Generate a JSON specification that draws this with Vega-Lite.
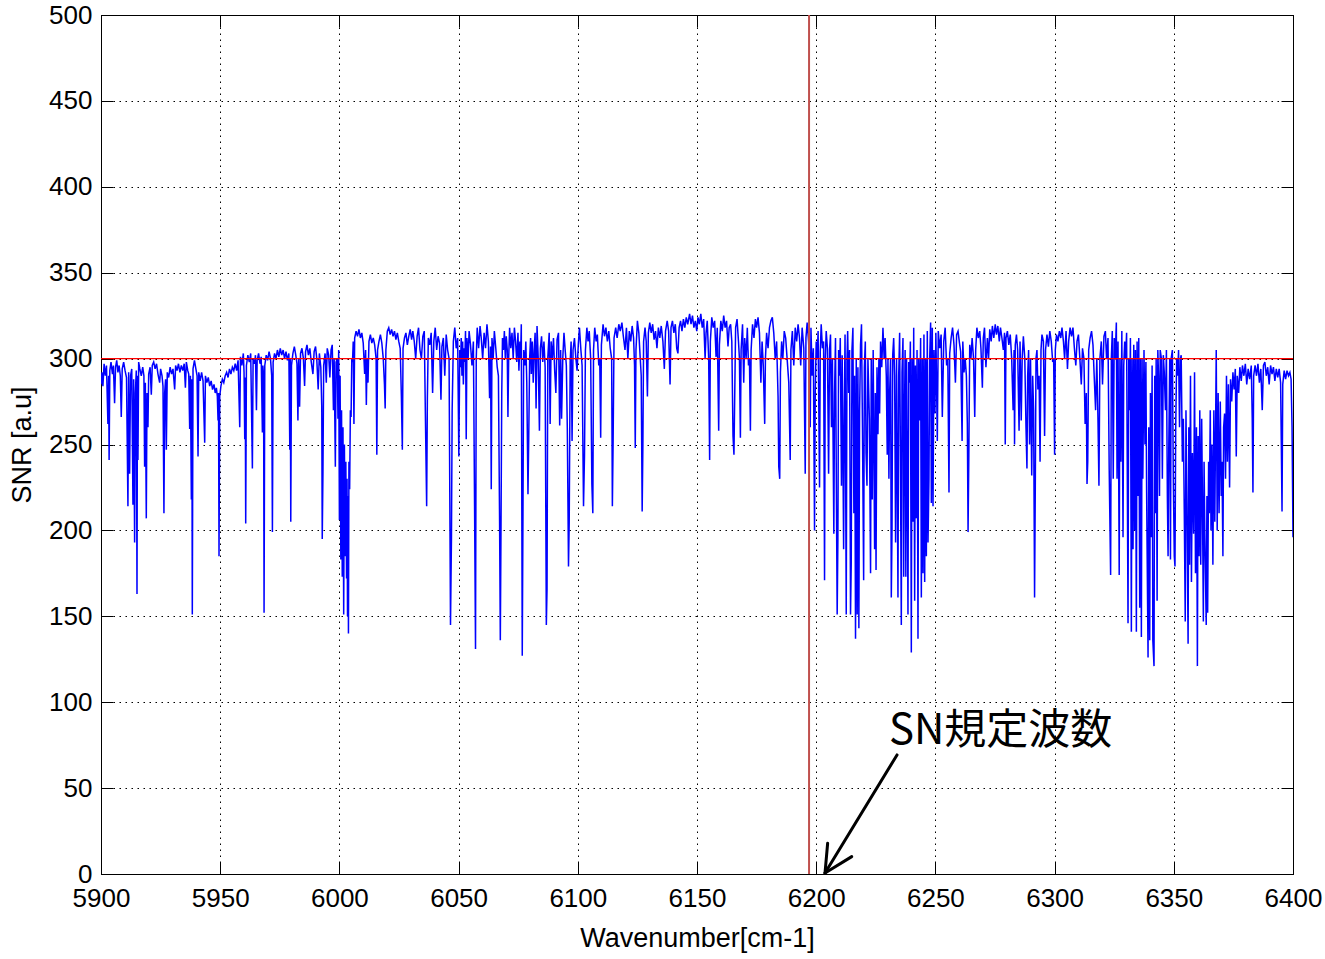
{
"$schema": "https://vega.github.io/schema/vega-lite/v6.json",
"width": 1192, "height": 859,
"autosize": {"type": "none"},
"padding": {"left": 101, "top": 15, "right": 32, "bottom": 85},
"background": "white",
"config": {
 "view": {"stroke": "black", "strokeWidth": 1},
 "axis": {"domainColor": "black", "tickColor": "black", "gridColor": "black", "gridDash": [1.5, 4.5], "gridOpacity": 1, "gridWidth": 1,
  "labelFont": "Liberation Sans", "labelFontSize": 26, "labelColor": "black", "labelOverlap": false, "labelFlush": false, "labelBound": false, "format": "d",
  "titleFont": "Liberation Sans", "titleFontSize": 27, "titleFontWeight": "normal", "titleColor": "black", "tickSize": -12, "tickWidth": 1}
},
"resolve": {"axis": {"x": "independent", "y": "independent"}},
"layer": [
 {
  "data": {"values": [
{"w":5900,"s":285},{"w":5900.4,"s":292},{"w":5900.8,"s":284},{"w":5901.3,"s":297},{"w":5901.8,"s":290},{"w":5902.3,"s":296},{"w":5902.9,"s":262},{"w":5903.2,"s":290},{"w":5903.4,"s":241},{"w":5903.7,"s":293},{"w":5904.2,"s":298},{"w":5904.8,"s":291},{"w":5905.2,"s":296},{"w":5905.7,"s":274},{"w":5906.1,"s":295},{"w":5906.6,"s":299},{"w":5907.1,"s":292},{"w":5907.6,"s":296},{"w":5908.1,"s":290},{"w":5908.5,"s":266},{"w":5908.9,"s":294},{"w":5909.5,"s":298},{"w":5910.1,"s":293},{"w":5910.7,"s":289},{"w":5911.3,"s":214},{"w":5911.6,"s":292},{"w":5912.0,"s":233},{"w":5912.4,"s":290},{"w":5912.9,"s":294},{"w":5913.4,"s":215},{"w":5913.7,"s":288},{"w":5914.1,"s":193},{"w":5914.4,"s":280},{"w":5914.8,"s":293},{"w":5915.1,"s":163},{"w":5915.3,"s":290},{"w":5915.5,"s":241},{"w":5915.8,"s":298},{"w":5916.3,"s":294},{"w":5916.9,"s":290},{"w":5917.5,"s":295},{"w":5918.0,"s":290},{"w":5918.3,"s":237},{"w":5918.6,"s":286},{"w":5919.0,"s":207},{"w":5919.3,"s":280},{"w":5919.7,"s":260},{"w":5920.0,"s":291},{"w":5920.6,"s":295},{"w":5921.1,"s":279},{"w":5921.5,"s":296},{"w":5922.1,"s":298},{"w":5922.7,"s":294},{"w":5923.3,"s":297},{"w":5923.9,"s":291},{"w":5924.6,"s":286},{"w":5925.0,"s":294},{"w":5925.6,"s":290},{"w":5926.0,"s":284},{"w":5926.4,"s":210},{"w":5926.7,"s":280},{"w":5927.1,"s":288},{"w":5927.4,"s":247},{"w":5927.8,"s":292},{"w":5928.4,"s":289},{"w":5929.0,"s":295},{"w":5929.6,"s":291},{"w":5930.2,"s":294},{"w":5930.9,"s":282},{"w":5931.3,"s":296},{"w":5931.9,"s":293},{"w":5932.5,"s":297},{"w":5933.1,"s":292},{"w":5933.7,"s":296},{"w":5934.3,"s":293},{"w":5934.9,"s":297},{"w":5935.4,"s":283},{"w":5935.8,"s":298},{"w":5936.4,"s":293},{"w":5936.8,"s":291},{"w":5937.2,"s":259},{"w":5937.5,"s":290},{"w":5937.9,"s":218},{"w":5938.1,"s":288},{"w":5938.3,"s":151},{"w":5938.6,"s":294},{"w":5939.2,"s":299},{"w":5939.8,"s":294},{"w":5940.3,"s":290},{"w":5940.7,"s":243},{"w":5941.0,"s":292},{"w":5941.6,"s":287},{"w":5942.2,"s":292},{"w":5942.8,"s":287},{"w":5943.5,"s":251},{"w":5943.8,"s":290},{"w":5944.4,"s":286},{"w":5945.0,"s":289},{"w":5945.6,"s":284},{"w":5946.2,"s":287},{"w":5946.8,"s":282},{"w":5947.4,"s":285},{"w":5947.9,"s":280},{"w":5948.4,"s":283},{"w":5948.8,"s":278},{"w":5949.1,"s":264},{"w":5949.3,"s":280},{"w":5949.5,"s":185},{"w":5949.8,"s":278},{"w":5950.3,"s":284},{"w":5950.9,"s":288},{"w":5951.5,"s":286},{"w":5952.1,"s":290},{"w":5952.7,"s":292},{"w":5953.3,"s":289},{"w":5953.9,"s":294},{"w":5954.5,"s":291},{"w":5955.1,"s":295},{"w":5955.7,"s":293},{"w":5956.3,"s":297},{"w":5956.9,"s":293},{"w":5957.5,"s":299},{"w":5958.2,"s":260},{"w":5958.5,"s":301},{"w":5959.1,"s":296},{"w":5959.7,"s":303},{"w":5960.0,"s":292},{"w":5960.3,"s":253},{"w":5960.5,"s":289},{"w":5960.7,"s":204},{"w":5961.0,"s":296},{"w":5961.6,"s":302},{"w":5962.2,"s":298},{"w":5962.8,"s":303},{"w":5963.5,"s":236},{"w":5963.8,"s":300},{"w":5964.4,"s":297},{"w":5964.8,"s":302},{"w":5965.2,"s":270},{"w":5965.5,"s":299},{"w":5966.1,"s":303},{"w":5966.7,"s":297},{"w":5967.2,"s":301},{"w":5967.7,"s":257},{"w":5967.9,"s":296},{"w":5968.2,"s":290},{"w":5968.4,"s":152},{"w":5968.7,"s":296},{"w":5969.3,"s":302},{"w":5969.9,"s":299},{"w":5970.5,"s":304},{"w":5971.1,"s":300},{"w":5971.6,"s":290},{"w":5971.9,"s":199},{"w":5972.2,"s":298},{"w":5972.8,"s":303},{"w":5973.4,"s":300},{"w":5974.0,"s":305},{"w":5974.6,"s":301},{"w":5975.2,"s":306},{"w":5975.8,"s":302},{"w":5976.4,"s":305},{"w":5977.0,"s":300},{"w":5977.6,"s":304},{"w":5978.2,"s":299},{"w":5978.8,"s":303},{"w":5979.2,"s":247},{"w":5979.4,"s":300},{"w":5979.6,"s":205},{"w":5979.9,"s":296},{"w":5980.5,"s":303},{"w":5981.1,"s":307},{"w":5981.7,"s":302},{"w":5982.2,"s":297},{"w":5982.6,"s":264},{"w":5982.9,"s":300},{"w":5983.3,"s":272},{"w":5983.7,"s":303},{"w":5984.3,"s":306},{"w":5984.9,"s":300},{"w":5985.4,"s":284},{"w":5985.8,"s":304},{"w":5986.4,"s":308},{"w":5987.0,"s":302},{"w":5987.6,"s":306},{"w":5988.2,"s":298},{"w":5988.9,"s":291},{"w":5989.4,"s":304},{"w":5990.0,"s":307},{"w":5990.5,"s":300},{"w":5991.1,"s":282},{"w":5991.6,"s":303},{"w":5992.2,"s":295},{"w":5992.6,"s":272},{"w":5992.8,"s":195},{"w":5993.1,"s":234},{"w":5993.4,"s":296},{"w":5994.0,"s":303},{"w":5994.5,"s":286},{"w":5994.9,"s":306},{"w":5995.5,"s":302},{"w":5996.0,"s":289},{"w":5996.5,"s":305},{"w":5997.0,"s":308},{"w":5997.5,"s":270},{"w":5997.8,"s":300},{"w":5998.3,"s":237},{"w":5998.6,"s":298},{"w":5999.1,"s":300},{"w":5999.4,"s":265},{"w":5999.7,"s":305},{"w":6000.0,"s":206},{"w":6000.3,"s":290},{"w":6000.6,"s":183},{"w":6000.9,"s":270},{"w":6001.2,"s":173},{"w":6001.5,"s":260},{"w":6001.8,"s":151},{"w":6002.1,"s":250},{"w":6002.4,"s":185},{"w":6002.7,"s":240},{"w":6003.0,"s":172},{"w":6003.2,"s":230},{"w":6003.4,"s":150},{"w":6003.6,"s":220},{"w":6003.8,"s":140},{"w":6004.0,"s":240},{"w":6004.3,"s":224},{"w":6004.6,"s":270},{"w":6004.9,"s":266},{"w":6005.2,"s":300},{"w":6005.5,"s":298},{"w":6005.8,"s":310},{"w":6006.1,"s":262},{"w":6006.4,"s":312},{"w":6007.0,"s":316},{"w":6007.6,"s":313},{"w":6008.2,"s":317},{"w":6008.8,"s":312},{"w":6009.4,"s":315},{"w":6010.0,"s":309},{"w":6010.6,"s":291},{"w":6011.0,"s":305},{"w":6011.3,"s":273},{"w":6011.6,"s":300},{"w":6012.0,"s":286},{"w":6012.4,"s":310},{"w":6013.0,"s":314},{"w":6013.6,"s":309},{"w":6014.2,"s":312},{"w":6014.8,"s":308},{"w":6015.4,"s":300},{"w":6015.7,"s":244},{"w":6016.0,"s":305},{"w":6016.6,"s":310},{"w":6017.2,"s":314},{"w":6017.8,"s":309},{"w":6018.4,"s":300},{"w":6018.9,"s":285},{"w":6019.2,"s":271},{"w":6019.5,"s":305},{"w":6020.1,"s":316},{"w":6020.7,"s":318},{"w":6021.3,"s":314},{"w":6021.9,"s":317},{"w":6022.5,"s":313},{"w":6023.1,"s":316},{"w":6023.7,"s":311},{"w":6024.3,"s":315},{"w":6024.9,"s":310},{"w":6025.5,"s":306},{"w":6026.0,"s":278},{"w":6026.4,"s":247},{"w":6026.7,"s":306},{"w":6027.3,"s":312},{"w":6027.9,"s":315},{"w":6028.5,"s":308},{"w":6029.1,"s":313},{"w":6029.7,"s":317},{"w":6030.3,"s":311},{"w":6030.8,"s":316},{"w":6031.4,"s":310},{"w":6032.0,"s":300},{"w":6032.6,"s":313},{"w":6033.2,"s":318},{"w":6033.8,"s":305},{"w":6034.4,"s":300},{"w":6035.0,"s":313},{"w":6035.6,"s":316},{"w":6036.1,"s":264},{"w":6036.6,"s":214},{"w":6036.9,"s":277},{"w":6037.3,"s":312},{"w":6037.9,"s":308},{"w":6038.5,"s":315},{"w":6039.1,"s":280},{"w":6039.6,"s":310},{"w":6040.2,"s":318},{"w":6040.8,"s":305},{"w":6041.4,"s":313},{"w":6042.0,"s":309},{"w":6042.6,"s":276},{"w":6043.0,"s":307},{"w":6043.6,"s":312},{"w":6044.2,"s":290},{"w":6044.8,"s":314},{"w":6045.4,"s":305},{"w":6046.0,"s":300},{"w":6046.6,"s":145},{"w":6047.0,"s":195},{"w":6047.3,"s":270},{"w":6047.8,"s":310},{"w":6048.4,"s":318},{"w":6049.0,"s":306},{"w":6049.6,"s":312},{"w":6050.1,"s":243},{"w":6050.5,"s":305},{"w":6050.8,"s":295},{"w":6051.1,"s":312},{"w":6051.4,"s":290},{"w":6051.7,"s":310},{"w":6052.0,"s":285},{"w":6052.3,"s":306},{"w":6052.6,"s":298},{"w":6052.9,"s":316},{"w":6053.2,"s":253},{"w":6053.5,"s":312},{"w":6054.0,"s":300},{"w":6054.4,"s":316},{"w":6055.0,"s":308},{"w":6055.6,"s":296},{"w":6056.2,"s":310},{"w":6056.7,"s":214},{"w":6057.1,"s":131},{"w":6057.4,"s":300},{"w":6057.8,"s":318},{"w":6058.4,"s":306},{"w":6059.0,"s":319},{"w":6059.5,"s":312},{"w":6060.1,"s":300},{"w":6060.7,"s":315},{"w":6061.3,"s":306},{"w":6061.9,"s":320},{"w":6062.5,"s":310},{"w":6063.0,"s":277},{"w":6063.4,"s":307},{"w":6063.7,"s":224},{"w":6064.0,"s":312},{"w":6064.5,"s":300},{"w":6065.0,"s":316},{"w":6065.6,"s":306},{"w":6066.2,"s":295},{"w":6066.7,"s":290},{"w":6067.2,"s":204},{"w":6067.5,"s":136},{"w":6067.8,"s":205},{"w":6068.1,"s":280},{"w":6068.4,"s":312},{"w":6068.8,"s":305},{"w":6069.2,"s":316},{"w":6069.6,"s":300},{"w":6070.0,"s":313},{"w":6070.4,"s":305},{"w":6070.7,"s":266},{"w":6071.0,"s":300},{"w":6071.4,"s":318},{"w":6071.9,"s":306},{"w":6072.4,"s":315},{"w":6072.9,"s":300},{"w":6073.4,"s":318},{"w":6073.9,"s":310},{"w":6074.4,"s":298},{"w":6074.9,"s":315},{"w":6075.3,"s":293},{"w":6075.7,"s":310},{"w":6076.0,"s":300},{"w":6076.3,"s":320},{"w":6076.7,"s":127},{"w":6077.0,"s":210},{"w":6077.3,"s":305},{"w":6077.8,"s":296},{"w":6078.2,"s":310},{"w":6078.6,"s":286},{"w":6079.1,"s":221},{"w":6079.4,"s":252},{"w":6079.8,"s":300},{"w":6080.2,"s":312},{"w":6080.5,"s":291},{"w":6080.9,"s":310},{"w":6081.3,"s":286},{"w":6081.7,"s":305},{"w":6082.1,"s":315},{"w":6082.5,"s":271},{"w":6082.9,"s":319},{"w":6083.4,"s":300},{"w":6083.9,"s":258},{"w":6084.3,"s":306},{"w":6084.8,"s":313},{"w":6085.3,"s":298},{"w":6085.8,"s":310},{"w":6086.3,"s":295},{"w":6086.8,"s":145},{"w":6087.1,"s":166},{"w":6087.4,"s":300},{"w":6088.0,"s":315},{"w":6088.4,"s":262},{"w":6088.8,"s":310},{"w":6089.3,"s":300},{"w":6089.8,"s":312},{"w":6090.3,"s":293},{"w":6090.8,"s":280},{"w":6091.3,"s":311},{"w":6091.9,"s":315},{"w":6092.4,"s":261},{"w":6092.8,"s":305},{"w":6093.2,"s":265},{"w":6093.7,"s":300},{"w":6094.2,"s":315},{"w":6094.7,"s":305},{"w":6095.2,"s":296},{"w":6095.6,"s":259},{"w":6096.1,"s":179},{"w":6096.4,"s":205},{"w":6096.8,"s":298},{"w":6097.2,"s":310},{"w":6097.6,"s":252},{"w":6098.0,"s":305},{"w":6098.6,"s":312},{"w":6099.2,"s":300},{"w":6099.7,"s":293},{"w":6100.2,"s":308},{"w":6100.7,"s":318},{"w":6101.3,"s":305},{"w":6101.8,"s":296},{"w":6102.4,"s":214},{"w":6102.8,"s":243},{"w":6103.2,"s":305},{"w":6103.8,"s":318},{"w":6104.3,"s":310},{"w":6104.8,"s":316},{"w":6105.4,"s":300},{"w":6105.9,"s":227},{"w":6106.3,"s":210},{"w":6106.6,"s":305},{"w":6107.1,"s":318},{"w":6107.7,"s":310},{"w":6108.2,"s":314},{"w":6108.8,"s":296},{"w":6109.2,"s":300},{"w":6109.6,"s":254},{"w":6109.9,"s":308},{"w":6110.6,"s":320},{"w":6111.2,"s":313},{"w":6111.8,"s":318},{"w":6112.4,"s":310},{"w":6113.0,"s":316},{"w":6113.6,"s":306},{"w":6114.2,"s":300},{"w":6114.5,"s":214},{"w":6114.8,"s":250},{"w":6115.2,"s":312},{"w":6115.9,"s":318},{"w":6116.5,"s":312},{"w":6117.2,"s":320},{"w":6117.8,"s":316},{"w":6118.5,"s":321},{"w":6119.1,"s":313},{"w":6119.8,"s":305},{"w":6120.4,"s":318},{"w":6121.0,"s":300},{"w":6121.6,"s":316},{"w":6122.2,"s":310},{"w":6122.8,"s":319},{"w":6123.4,"s":312},{"w":6123.8,"s":296},{"w":6124.1,"s":248},{"w":6124.4,"s":305},{"w":6125.0,"s":322},{"w":6125.6,"s":315},{"w":6126.2,"s":300},{"w":6126.6,"s":290},{"w":6127.0,"s":211},{"w":6127.3,"s":250},{"w":6127.6,"s":310},{"w":6128.2,"s":318},{"w":6128.7,"s":310},{"w":6129.2,"s":278},{"w":6129.6,"s":315},{"w":6130.2,"s":321},{"w":6130.8,"s":315},{"w":6131.4,"s":320},{"w":6132.0,"s":311},{"w":6132.6,"s":316},{"w":6133.2,"s":306},{"w":6133.8,"s":318},{"w":6134.4,"s":312},{"w":6135.0,"s":319},{"w":6135.7,"s":310},{"w":6136.3,"s":294},{"w":6136.8,"s":316},{"w":6137.5,"s":322},{"w":6138.1,"s":316},{"w":6138.7,"s":285},{"w":6139.1,"s":318},{"w":6139.7,"s":322},{"w":6140.3,"s":315},{"w":6140.9,"s":320},{"w":6141.5,"s":306},{"w":6142.0,"s":303},{"w":6142.5,"s":318},{"w":6143.1,"s":322},{"w":6143.7,"s":316},{"w":6144.3,"s":323},{"w":6144.9,"s":318},{"w":6145.5,"s":324},{"w":6146.1,"s":320},{"w":6146.9,"s":326},{"w":6147.5,"s":320},{"w":6148.1,"s":325},{"w":6148.7,"s":318},{"w":6149.3,"s":322},{"w":6149.9,"s":316},{"w":6150.4,"s":324},{"w":6151.0,"s":320},{"w":6151.6,"s":326},{"w":6152.2,"s":318},{"w":6152.8,"s":323},{"w":6153.4,"s":300},{"w":6153.8,"s":315},{"w":6154.3,"s":322},{"w":6154.9,"s":300},{"w":6155.3,"s":241},{"w":6155.6,"s":310},{"w":6156.2,"s":324},{"w":6156.8,"s":318},{"w":6157.4,"s":322},{"w":6158.0,"s":301},{"w":6158.5,"s":318},{"w":6159.1,"s":258},{"w":6159.4,"s":308},{"w":6160.0,"s":322},{"w":6160.6,"s":316},{"w":6161.2,"s":325},{"w":6161.8,"s":318},{"w":6162.4,"s":322},{"w":6163.0,"s":307},{"w":6163.5,"s":318},{"w":6164.1,"s":320},{"w":6164.6,"s":310},{"w":6165.1,"s":255},{"w":6165.5,"s":244},{"w":6165.8,"s":276},{"w":6166.2,"s":318},{"w":6166.8,"s":323},{"w":6167.4,"s":310},{"w":6167.8,"s":300},{"w":6168.2,"s":254},{"w":6168.5,"s":305},{"w":6169.1,"s":320},{"w":6169.6,"s":286},{"w":6170.0,"s":312},{"w":6170.6,"s":300},{"w":6171.1,"s":318},{"w":6171.6,"s":296},{"w":6172.0,"s":300},{"w":6172.4,"s":258},{"w":6172.7,"s":305},{"w":6173.3,"s":320},{"w":6173.9,"s":312},{"w":6174.5,"s":323},{"w":6175.0,"s":318},{"w":6175.6,"s":324},{"w":6176.2,"s":315},{"w":6176.8,"s":286},{"w":6177.3,"s":310},{"w":6177.8,"s":296},{"w":6178.4,"s":262},{"w":6178.7,"s":300},{"w":6179.2,"s":315},{"w":6179.8,"s":306},{"w":6180.4,"s":318},{"w":6181.0,"s":322},{"w":6181.6,"s":324},{"w":6182.2,"s":315},{"w":6182.8,"s":300},{"w":6183.4,"s":310},{"w":6184.0,"s":278},{"w":6184.3,"s":237},{"w":6184.7,"s":230},{"w":6185.0,"s":292},{"w":6185.5,"s":310},{"w":6186.0,"s":300},{"w":6186.6,"s":316},{"w":6187.2,"s":312},{"w":6187.8,"s":300},{"w":6188.5,"s":286},{"w":6189.1,"s":241},{"w":6189.4,"s":305},{"w":6190.0,"s":316},{"w":6190.6,"s":296},{"w":6191.2,"s":318},{"w":6191.8,"s":310},{"w":6192.4,"s":320},{"w":6193.0,"s":312},{"w":6193.5,"s":296},{"w":6194.1,"s":318},{"w":6194.8,"s":306},{"w":6195.4,"s":233},{"w":6195.7,"s":312},{"w":6196.2,"s":321},{"w":6196.8,"s":310},{"w":6197.1,"s":300},{"w":6197.5,"s":260},{"w":6197.8,"s":318},{"w":6198.3,"s":290},{"w":6198.8,"s":306},{"w":6199.3,"s":200},{"w":6199.6,"s":280},{"w":6200.0,"s":310},{"w":6200.4,"s":300},{"w":6200.8,"s":316},{"w":6201.4,"s":225},{"w":6201.7,"s":304},{"w":6202.1,"s":320},{"w":6202.6,"s":306},{"w":6203.1,"s":310},{"w":6203.5,"s":171},{"w":6203.8,"s":300},{"w":6204.2,"s":316},{"w":6204.7,"s":306},{"w":6205.2,"s":233},{"w":6205.6,"s":305},{"w":6206.0,"s":314},{"w":6206.4,"s":260},{"w":6206.8,"s":300},{"w":6207.4,"s":198},{"w":6207.7,"s":280},{"w":6208.1,"s":312},{"w":6208.5,"s":215},{"w":6208.8,"s":151},{"w":6209.1,"s":195},{"w":6209.4,"s":305},{"w":6209.8,"s":290},{"w":6210.1,"s":312},{"w":6210.6,"s":226},{"w":6210.9,"s":302},{"w":6211.2,"s":250},{"w":6211.5,"s":189},{"w":6211.8,"s":270},{"w":6212.1,"s":314},{"w":6212.6,"s":151},{"w":6212.9,"s":298},{"w":6213.2,"s":316},{"w":6213.6,"s":280},{"w":6214.0,"s":305},{"w":6214.4,"s":151},{"w":6214.7,"s":181},{"w":6215.0,"s":305},{"w":6215.4,"s":318},{"w":6215.8,"s":210},{"w":6216.1,"s":290},{"w":6216.5,"s":137},{"w":6216.8,"s":300},{"w":6217.2,"s":151},{"w":6217.5,"s":295},{"w":6217.9,"s":143},{"w":6218.2,"s":270},{"w":6218.6,"s":308},{"w":6219.0,"s":320},{"w":6219.4,"s":260},{"w":6219.9,"s":171},{"w":6220.2,"s":295},{"w":6220.6,"s":310},{"w":6220.9,"s":245},{"w":6221.3,"s":226},{"w":6221.7,"s":300},{"w":6222.3,"s":265},{"w":6222.8,"s":175},{"w":6223.1,"s":300},{"w":6223.5,"s":218},{"w":6223.9,"s":305},{"w":6224.5,"s":189},{"w":6224.8,"s":280},{"w":6225.1,"s":177},{"w":6225.5,"s":295},{"w":6225.9,"s":256},{"w":6226.3,"s":300},{"w":6226.6,"s":268},{"w":6227.0,"s":310},{"w":6227.5,"s":295},{"w":6228.0,"s":318},{"w":6228.5,"s":300},{"w":6228.9,"s":312},{"w":6229.4,"s":290},{"w":6229.8,"s":244},{"w":6230.1,"s":300},{"w":6230.5,"s":230},{"w":6230.8,"s":280},{"w":6231.2,"s":300},{"w":6231.5,"s":161},{"w":6231.8,"s":200},{"w":6232.1,"s":302},{"w":6232.5,"s":312},{"w":6232.9,"s":290},{"w":6233.3,"s":193},{"w":6233.7,"s":300},{"w":6234.0,"s":230},{"w":6234.3,"s":161},{"w":6234.6,"s":290},{"w":6235.0,"s":315},{"w":6235.3,"s":250},{"w":6235.7,"s":145},{"w":6236.0,"s":292},{"w":6236.4,"s":312},{"w":6236.7,"s":173},{"w":6237.0,"s":264},{"w":6237.3,"s":305},{"w":6237.6,"s":173},{"w":6237.9,"s":300},{"w":6238.2,"s":230},{"w":6238.5,"s":151},{"w":6238.8,"s":298},{"w":6239.2,"s":286},{"w":6239.5,"s":310},{"w":6239.9,"s":129},{"w":6240.2,"s":300},{"w":6240.6,"s":205},{"w":6240.9,"s":318},{"w":6241.3,"s":159},{"w":6241.6,"s":296},{"w":6242.0,"s":207},{"w":6242.3,"s":305},{"w":6242.7,"s":137},{"w":6243.0,"s":300},{"w":6243.4,"s":264},{"w":6243.8,"s":312},{"w":6244.1,"s":161},{"w":6244.5,"s":300},{"w":6244.8,"s":175},{"w":6245.2,"s":314},{"w":6245.5,"s":170},{"w":6245.9,"s":300},{"w":6246.2,"s":185},{"w":6246.6,"s":316},{"w":6246.9,"s":193},{"w":6247.3,"s":230},{"w":6247.6,"s":300},{"w":6248.0,"s":321},{"w":6248.3,"s":216},{"w":6248.7,"s":318},{"w":6249.0,"s":214},{"w":6249.4,"s":305},{"w":6249.8,"s":268},{"w":6250.2,"s":315},{"w":6250.8,"s":252},{"w":6251.2,"s":316},{"w":6251.8,"s":306},{"w":6252.4,"s":314},{"w":6252.9,"s":266},{"w":6253.5,"s":310},{"w":6254.1,"s":318},{"w":6254.7,"s":296},{"w":6255.2,"s":300},{"w":6255.7,"s":222},{"w":6256.0,"s":303},{"w":6256.6,"s":312},{"w":6257.2,"s":318},{"w":6257.8,"s":308},{"w":6258.4,"s":286},{"w":6258.9,"s":314},{"w":6259.5,"s":316},{"w":6260.1,"s":309},{"w":6260.6,"s":304},{"w":6261.2,"s":252},{"w":6261.5,"s":310},{"w":6262.0,"s":292},{"w":6262.5,"s":300},{"w":6263.0,"s":290},{"w":6263.4,"s":262},{"w":6263.7,"s":199},{"w":6264.0,"s":240},{"w":6264.4,"s":308},{"w":6264.9,"s":300},{"w":6265.4,"s":312},{"w":6266.0,"s":300},{"w":6266.5,"s":266},{"w":6266.9,"s":305},{"w":6267.4,"s":318},{"w":6268.0,"s":312},{"w":6268.6,"s":316},{"w":6269.1,"s":306},{"w":6269.7,"s":283},{"w":6270.1,"s":312},{"w":6270.6,"s":318},{"w":6271.2,"s":295},{"w":6271.8,"s":312},{"w":6272.3,"s":300},{"w":6272.8,"s":317},{"w":6273.4,"s":310},{"w":6273.9,"s":319},{"w":6274.5,"s":312},{"w":6275.1,"s":320},{"w":6275.6,"s":314},{"w":6276.2,"s":319},{"w":6276.8,"s":310},{"w":6277.3,"s":318},{"w":6277.9,"s":312},{"w":6278.5,"s":305},{"w":6279.0,"s":315},{"w":6279.3,"s":250},{"w":6279.6,"s":312},{"w":6280.2,"s":316},{"w":6280.8,"s":308},{"w":6281.4,"s":314},{"w":6282.0,"s":300},{"w":6282.6,"s":270},{"w":6283.0,"s":305},{"w":6283.2,"s":250},{"w":6283.5,"s":308},{"w":6284.0,"s":314},{"w":6284.5,"s":305},{"w":6285.1,"s":258},{"w":6285.5,"s":310},{"w":6286.0,"s":264},{"w":6286.4,"s":300},{"w":6286.9,"s":313},{"w":6287.5,"s":300},{"w":6288.0,"s":260},{"w":6288.4,"s":236},{"w":6288.7,"s":290},{"w":6289.1,"s":305},{"w":6289.5,"s":250},{"w":6289.9,"s":300},{"w":6290.4,"s":232},{"w":6290.8,"s":290},{"w":6291.2,"s":270},{"w":6291.6,"s":161},{"w":6291.9,"s":225},{"w":6292.2,"s":300},{"w":6292.6,"s":305},{"w":6293.0,"s":282},{"w":6293.5,"s":290},{"w":6293.9,"s":240},{"w":6294.3,"s":305},{"w":6294.7,"s":314},{"w":6295.3,"s":310},{"w":6295.8,"s":255},{"w":6296.2,"s":305},{"w":6296.8,"s":314},{"w":6297.4,"s":307},{"w":6298.0,"s":316},{"w":6298.6,"s":310},{"w":6299.2,"s":298},{"w":6299.6,"s":300},{"w":6300.0,"s":244},{"w":6300.3,"s":305},{"w":6300.8,"s":314},{"w":6301.4,"s":310},{"w":6302.0,"s":316},{"w":6302.6,"s":312},{"w":6303.1,"s":318},{"w":6303.7,"s":310},{"w":6304.2,"s":300},{"w":6304.8,"s":316},{"w":6305.4,"s":294},{"w":6305.9,"s":310},{"w":6306.5,"s":318},{"w":6307.1,"s":313},{"w":6307.7,"s":318},{"w":6308.3,"s":306},{"w":6308.9,"s":296},{"w":6309.4,"s":310},{"w":6310.0,"s":314},{"w":6310.6,"s":300},{"w":6311.2,"s":285},{"w":6311.7,"s":306},{"w":6312.3,"s":300},{"w":6312.8,"s":262},{"w":6313.3,"s":280},{"w":6313.6,"s":227},{"w":6313.9,"s":240},{"w":6314.3,"s":305},{"w":6314.9,"s":312},{"w":6315.5,"s":316},{"w":6316.1,"s":308},{"w":6316.6,"s":290},{"w":6317.2,"s":270},{"w":6317.7,"s":300},{"w":6318.2,"s":264},{"w":6318.6,"s":226},{"w":6319.0,"s":300},{"w":6319.6,"s":310},{"w":6320.1,"s":285},{"w":6320.7,"s":313},{"w":6321.3,"s":316},{"w":6321.8,"s":300},{"w":6322.4,"s":312},{"w":6322.9,"s":236},{"w":6323.5,"s":174},{"w":6323.8,"s":300},{"w":6324.2,"s":316},{"w":6324.6,"s":230},{"w":6325.0,"s":312},{"w":6325.4,"s":300},{"w":6325.9,"s":321},{"w":6326.2,"s":230},{"w":6326.6,"s":310},{"w":6327.1,"s":174},{"w":6327.4,"s":300},{"w":6327.8,"s":240},{"w":6328.2,"s":316},{"w":6328.7,"s":196},{"w":6329.0,"s":296},{"w":6329.4,"s":310},{"w":6329.8,"s":300},{"w":6330.2,"s":315},{"w":6330.8,"s":146},{"w":6331.1,"s":300},{"w":6331.5,"s":270},{"w":6331.8,"s":312},{"w":6332.2,"s":141},{"w":6332.5,"s":300},{"w":6332.9,"s":189},{"w":6333.2,"s":308},{"w":6333.6,"s":200},{"w":6333.9,"s":305},{"w":6334.3,"s":141},{"w":6334.6,"s":310},{"w":6334.9,"s":220},{"w":6335.3,"s":312},{"w":6335.7,"s":155},{"w":6336.0,"s":300},{"w":6336.4,"s":138},{"w":6336.7,"s":300},{"w":6337.0,"s":230},{"w":6337.5,"s":305},{"w":6337.9,"s":250},{"w":6338.3,"s":298},{"w":6338.6,"s":222},{"w":6339.2,"s":126},{"w":6339.5,"s":260},{"w":6339.9,"s":136},{"w":6340.2,"s":280},{"w":6340.6,"s":196},{"w":6340.9,"s":296},{"w":6341.2,"s":136},{"w":6341.7,"s":121},{"w":6342.0,"s":290},{"w":6342.3,"s":210},{"w":6342.6,"s":300},{"w":6343.0,"s":159},{"w":6343.3,"s":305},{"w":6343.6,"s":290},{"w":6344.0,"s":220},{"w":6344.3,"s":305},{"w":6344.8,"s":300},{"w":6345.2,"s":230},{"w":6345.6,"s":302},{"w":6346.0,"s":292},{"w":6346.5,"s":270},{"w":6346.9,"s":305},{"w":6347.3,"s":220},{"w":6347.6,"s":185},{"w":6347.9,"s":250},{"w":6348.3,"s":300},{"w":6348.6,"s":183},{"w":6348.9,"s":300},{"w":6349.4,"s":305},{"w":6349.8,"s":230},{"w":6350.2,"s":185},{"w":6350.5,"s":179},{"w":6350.8,"s":260},{"w":6351.2,"s":300},{"w":6351.6,"s":290},{"w":6352.0,"s":305},{"w":6352.4,"s":260},{"w":6352.8,"s":300},{"w":6353.1,"s":302},{"w":6353.6,"s":240},{"w":6354.0,"s":265},{"w":6354.4,"s":210},{"w":6354.8,"s":147},{"w":6355.1,"s":270},{"w":6355.5,"s":215},{"w":6356.0,"s":134},{"w":6356.3,"s":260},{"w":6356.6,"s":180},{"w":6357.0,"s":290},{"w":6357.4,"s":170},{"w":6357.8,"s":245},{"w":6358.3,"s":198},{"w":6358.7,"s":292},{"w":6359.1,"s":175},{"w":6359.5,"s":260},{"w":6359.9,"s":121},{"w":6360.2,"s":255},{"w":6360.6,"s":185},{"w":6360.9,"s":270},{"w":6361.3,"s":180},{"w":6361.7,"s":265},{"w":6362.0,"s":220},{"w":6362.4,"s":147},{"w":6362.7,"s":240},{"w":6363.0,"s":200},{"w":6363.6,"s":145},{"w":6363.9,"s":220},{"w":6364.2,"s":152},{"w":6364.6,"s":240},{"w":6364.9,"s":210},{"w":6365.3,"s":270},{"w":6365.6,"s":200},{"w":6366.0,"s":250},{"w":6366.4,"s":180},{"w":6366.8,"s":270},{"w":6367.2,"s":205},{"w":6367.8,"s":305},{"w":6368.2,"s":200},{"w":6368.6,"s":280},{"w":6369.0,"s":210},{"w":6369.5,"s":275},{"w":6369.9,"s":220},{"w":6370.2,"s":240},{"w":6370.6,"s":185},{"w":6370.9,"s":260},{"w":6371.3,"s":268},{"w":6371.7,"s":230},{"w":6372.1,"s":290},{"w":6372.5,"s":240},{"w":6372.9,"s":285},{"w":6373.4,"s":225},{"w":6373.8,"s":288},{"w":6374.3,"s":275},{"w":6374.8,"s":292},{"w":6375.3,"s":282},{"w":6375.8,"s":294},{"w":6376.2,"s":243},{"w":6376.6,"s":290},{"w":6377.2,"s":280},{"w":6377.7,"s":295},{"w":6378.3,"s":287},{"w":6378.8,"s":296},{"w":6379.4,"s":290},{"w":6380.0,"s":297},{"w":6380.6,"s":285},{"w":6381.2,"s":294},{"w":6381.8,"s":288},{"w":6382.5,"s":296},{"w":6382.9,"s":265},{"w":6383.2,"s":222},{"w":6383.5,"s":290},{"w":6384.1,"s":296},{"w":6384.7,"s":290},{"w":6385.3,"s":297},{"w":6385.9,"s":286},{"w":6386.5,"s":294},{"w":6387.1,"s":270},{"w":6387.6,"s":296},{"w":6388.2,"s":298},{"w":6388.8,"s":290},{"w":6389.4,"s":295},{"w":6390.0,"s":285},{"w":6390.6,"s":296},{"w":6391.2,"s":291},{"w":6391.8,"s":295},{"w":6392.4,"s":287},{"w":6393.0,"s":294},{"w":6393.6,"s":289},{"w":6394.2,"s":294},{"w":6394.8,"s":286},{"w":6395.1,"s":250},{"w":6395.4,"s":211},{"w":6395.7,"s":285},{"w":6396.3,"s":293},{"w":6396.9,"s":288},{"w":6397.5,"s":293},{"w":6398.1,"s":290},{"w":6398.7,"s":292},{"w":6399.2,"s":288},{"w":6399.6,"s":260},{"w":6400.0,"s":196}
  ]},
  "mark": {"type": "line", "color": "#0000ff", "strokeWidth": 1.5, "clip": true},
  "encoding": {
   "x": {"field": "w", "type": "quantitative", "scale": {"domain": [5900, 6400], "nice": false, "zero": false},
    "axis": {"orient": "bottom", "values": [5900,5950,6000,6050,6100,6150,6200,6250,6300,6350,6400], "grid": true, "title": "Wavenumber[cm-1]", "labelPadding": 23, "titlePadding": 14, "domain": true}},
   "y": {"field": "s", "type": "quantitative", "scale": {"domain": [0, 500], "nice": false},
    "axis": {"orient": "left", "values": [0,50,100,150,200,250,300,350,400,450,500], "grid": true, "title": "SNR [a.u]", "labelPadding": 21, "titlePadding": 12, "domain": true}}
  }
 },
 {
  "data": {"values": [{"s": 300}]},
  "mark": {"type": "rule", "color": "#ff0000", "strokeWidth": 1.3},
  "encoding": {"y": {"field": "s", "type": "quantitative", "axis": {"orient": "right", "values": [0,50,100,150,200,250,300,350,400,450,500], "labels": false, "grid": false, "title": null, "domain": true}}}
 },
 {
  "data": {"values": [{"w": 6197}]},
  "mark": {"type": "rule", "color": "#c0504d", "strokeWidth": 2},
  "encoding": {"x": {"field": "w", "type": "quantitative", "axis": {"orient": "top", "values": [5900,5950,6000,6050,6100,6150,6200,6250,6300,6350,6400], "labels": false, "grid": false, "title": null, "domain": true}}}
 },
 {
  "data": {"values": [
   {"w": 6233.9, "s": 69.3, "w2": 6203.7, "s2": 0.6},
   {"w": 6214.9, "s": 10.1, "w2": 6203.7, "s2": 0.6},
   {"w": 6204.8, "s": 17.9, "w2": 6203.7, "s2": 0.6}
  ]},
  "mark": {"type": "rule", "color": "black", "strokeWidth": 3, "strokeCap": "round"},
  "encoding": {
   "x": {"field": "w", "type": "quantitative", "axis": null},
   "y": {"field": "s", "type": "quantitative", "axis": null},
   "x2": {"field": "w2"}, "y2": {"field": "s2"}
  }
 },
 {
  "data": {"values": [{"w": 6230.5, "s": 83, "t": "SN規定波数"}]},
  "mark": {"type": "text", "align": "left", "baseline": "middle", "font": "Noto Sans CJK JP", "fontSize": 42, "color": "black"},
  "encoding": {
   "x": {"field": "w", "type": "quantitative", "axis": null},
   "y": {"field": "s", "type": "quantitative", "axis": null},
   "text": {"field": "t"}
  }
 }
]
}
